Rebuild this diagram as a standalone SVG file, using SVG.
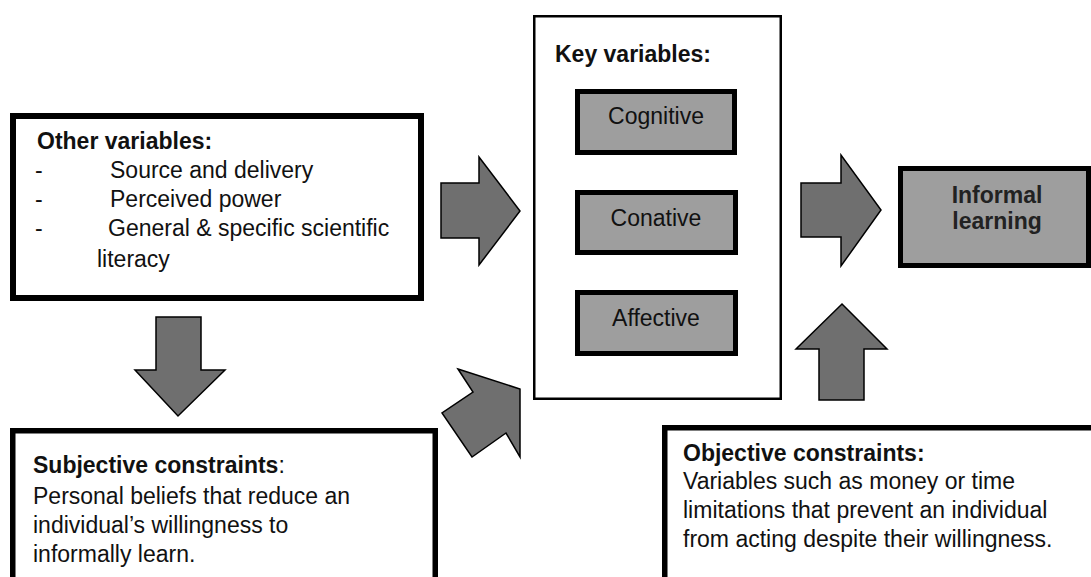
<svg xmlns="http://www.w3.org/2000/svg" width="1091" height="577" viewBox="0 0 1091 577">
<style>
text{font-family:"Liberation Sans",Arial,sans-serif;font-size:23px;fill:#111}
.b{font-weight:bold}
.m{text-anchor:middle}
.thick{fill:#fff;stroke:#000;stroke-width:5.5}
.thin{fill:#fff;stroke:#000;stroke-width:2.5}
.grey{fill:#9e9e9e;stroke:#000;stroke-width:5}
.arr{fill:#6f6f6f;stroke:#000;stroke-width:1.5;stroke-linejoin:miter}
</style>
<rect width="1091" height="577" fill="#fff"/>
<g id="other-variables">
<rect class="thick" x="13" y="116" width="408" height="182" style="stroke-width:6"/>
<text class="b" x="37" y="149">Other variables:</text>
<text x="35" y="178">-</text><text x="110" y="178">Source and delivery</text>
<text x="35" y="207">-</text><text x="110" y="207">Perceived power</text>
<text x="35" y="236">-</text><text x="108" y="236">General &amp; specific scientific</text>
<text x="97" y="267">literacy</text>
</g>
<g id="key-variables">
<rect class="thin" x="534.25" y="16.25" width="246.5" height="382.5"/>
<text class="b" x="555" y="62">Key variables:</text>
</g>
<g id="cognitive">
<rect class="grey" x="577.5" y="91.5" width="157" height="61"/>
<text class="m" x="656" y="124">Cognitive</text>
</g>
<g id="conative">
<rect class="grey" x="577.5" y="192.5" width="158" height="60"/>
<text class="m" x="656" y="226">Conative</text>
</g>
<g id="affective">
<rect class="grey" x="577.5" y="292.5" width="158" height="61"/>
<text class="m" x="656" y="326">Affective</text>
</g>
<g id="informal-learning">
<rect class="grey" x="900.5" y="168.5" width="188" height="97"/>
<text class="b m" x="997" y="203" style="fill:#222">Informal</text>
<text class="b m" x="997" y="229" style="fill:#222">learning</text>
</g>
<g id="subjective-constraints">
<rect class="thick" x="12.75" y="430.75" width="422.5" height="300"/>
<text x="33" y="473"><tspan class="b">Subjective constraints</tspan>:</text>
<text x="33" y="504">Personal beliefs that reduce an</text>
<text x="33" y="533">individual’s willingness to</text>
<text x="33" y="562">informally learn.</text>
</g>
<g id="objective-constraints">
<rect class="thick" x="664.75" y="427.75" width="500" height="300"/>
<text class="b" x="683" y="461">Objective constraints:</text>
<text x="683" y="489">Variables such as money or time</text>
<text x="683" y="518">limitations that prevent an individual</text>
<text x="683" y="547">from acting despite their willingness.</text>
</g>
<g id="connectors">
<polygon class="arr" points="441,183 479,183 479,157 520,211 479,265 479,238 441,238"/>
<polygon class="arr" points="801,183 841,183 841,155 881,210 841,266 841,237 801,237"/>
<polygon class="arr" points="156,317 201,317 201,370 225,370 178,416 135,370 156,370"/>
<polygon class="arr" points="842,304 887,349 864,349 864,400 819,400 819,349 796,349"/>
<polygon class="arr" points="458,369 520,389 520,457 506,433 472,457 442,413 473,392"/>
</g>
</svg>
